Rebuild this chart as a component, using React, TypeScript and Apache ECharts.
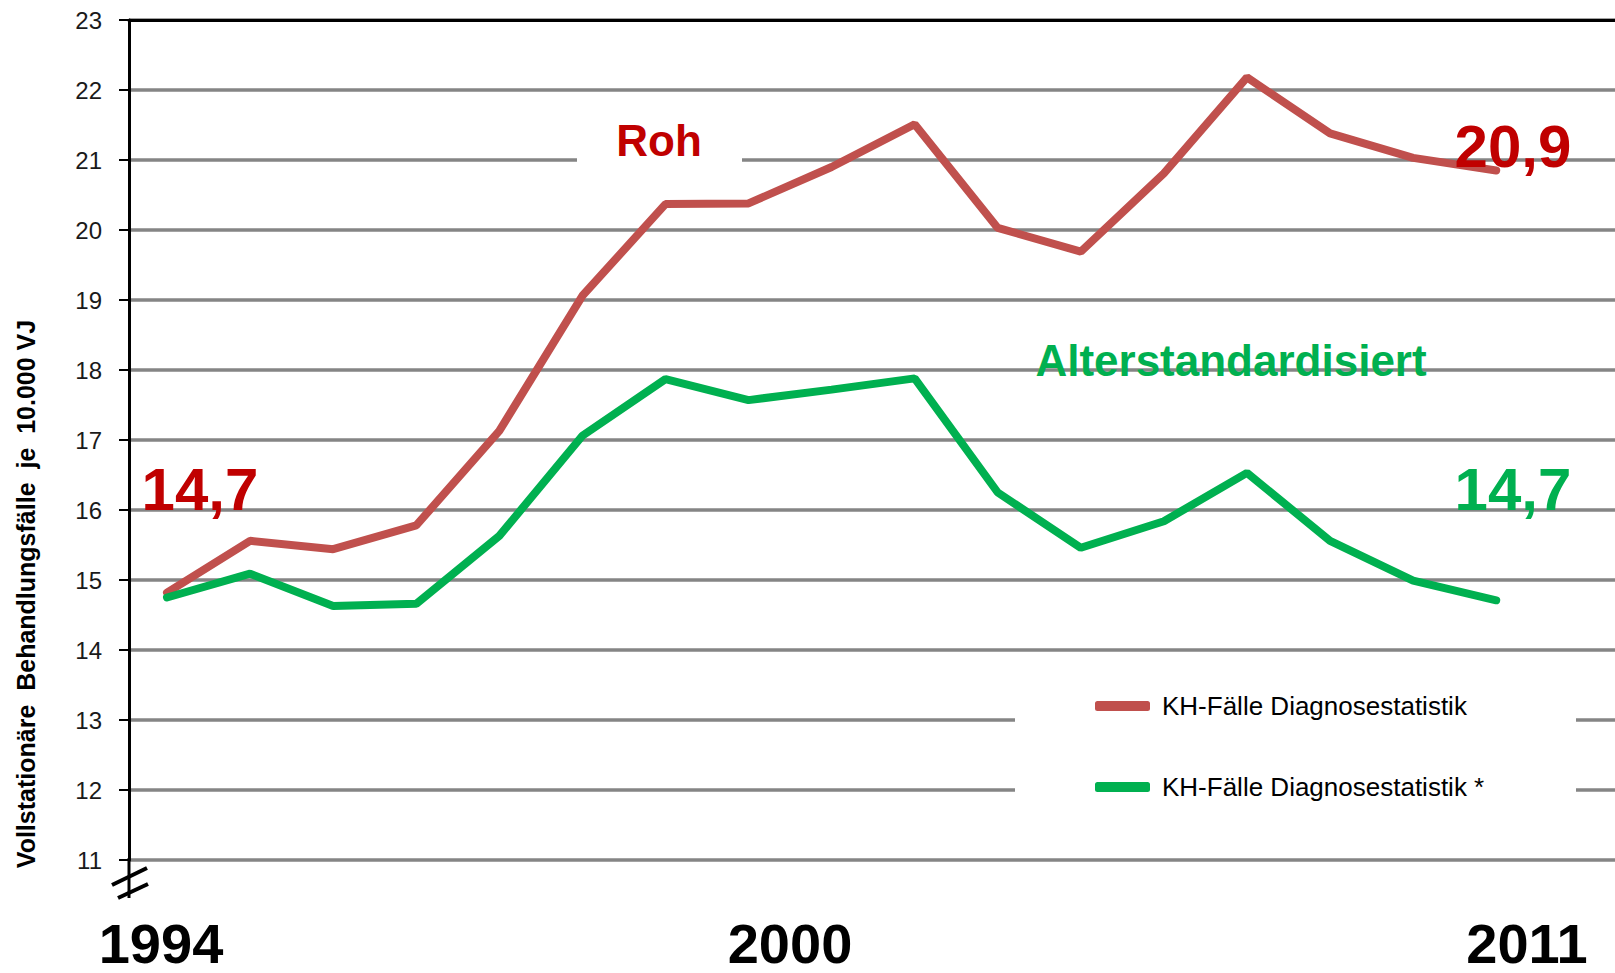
import React, { useEffect, useRef } from "react";
import * as echarts from "echarts";

const years = ["1994","1995","1996","1997","1998","1999","2000","2001","2002","2003","2004","2005","2006","2007","2008","2009","2010"];
const rohValues = [14.82, 15.56, 15.44, 15.78, 17.13, 19.06, 20.37, 20.38, 20.9, 21.51, 20.03, 19.69, 20.81, 22.18, 21.38, 21.03, 20.85];
const altersValues = [14.75, 15.09, 14.63, 14.66, 15.63, 17.06, 17.87, 17.57, 17.72, 17.88, 16.25, 15.46, 15.84, 16.53, 15.56, 14.99, 14.71];
const seriesNames = ["KH-Fälle Diagnosestatistik", "KH-Fälle Diagnosestatistik *"];
const yearLabels = ["1994", "2000", "2011"];
const yTitle = "Vollstationäre  Behandlungsfälle  je  10.000 VJ";

const FONT = "'Liberation Sans', Arial, sans-serif";

export default function App() {
  const ref = useRef<HTMLDivElement>(null);
  useEffect(() => {
    if (!ref.current) return;
    const chart = echarts.init(ref.current, undefined, { renderer: "svg" });
    const toPairs = (arr: number[]) => arr.map((v, i) => [i, v]);
    const xMin = -0.4575;
    const xMax = 17.43;
    const big = (text: string, x: number, y: number, size: number, fill: string) => ({
      type: "text", z: 10, x, y,
      style: { text, fontSize: size, fontWeight: "bold", fontFamily: FONT, fill, textAlign: "center", textVerticalAlign: "middle" },
    });
    chart.setOption({
      animation: false,
      backgroundColor: "#ffffff",
      grid: { left: 129, top: 20, right: 0, bottom: 113, containLabel: false },
      xAxis: [
        {
          type: "value", min: xMin, max: xMax,
          axisLine: { show: false, onZero: false }, axisTick: { show: false }, axisLabel: { show: false }, splitLine: { show: false },
        },
        {
          type: "value", min: xMin, max: xMax, position: "top",
          axisLine: { show: true, onZero: false, lineStyle: { color: "#000", width: 3 } },
          axisTick: { show: false }, axisLabel: { show: false }, splitLine: { show: false },
        },
      ],
      yAxis: {
        type: "value", min: 11, max: 23, interval: 1,
        axisLine: { show: true, onZero: false, lineStyle: { color: "#000", width: 3 } },
        axisTick: { show: true, length: 10, lineStyle: { color: "#000", width: 2 } },
        axisLabel: { margin: 27, fontSize: 24, color: "#1a1a1a", fontFamily: FONT },
        splitLine: { show: true, lineStyle: { color: "#858585", width: 3.5 } },
      },
      legend: {
        orient: "vertical",
        left: 1090,
        top: 688,
        itemWidth: 55,
        itemHeight: 10,
        itemGap: 55,
        icon: "roundRect",
        selectedMode: false,
        textStyle: { fontSize: 26, fontFamily: FONT, color: "#000", padding: [0, 0, 0, 7] },
        data: seriesNames,
      },
      series: [
        {
          name: seriesNames[0], type: "line", data: toPairs(rohValues), showSymbol: false, symbol: "none",
          lineStyle: { color: "#C0504D", width: 8, cap: "round" }, itemStyle: { color: "#C0504D" }, z: 3,
        },
        {
          name: seriesNames[1], type: "line", data: toPairs(altersValues), showSymbol: false, symbol: "none",
          lineStyle: { color: "#00B050", width: 8, cap: "round" }, itemStyle: { color: "#00B050" }, z: 3,
        },
      ],
      graphic: [
        { type: "rect", z: 1, shape: { x: 577, y: 105, width: 165, height: 70 }, style: { fill: "#ffffff" } },
        { type: "rect", z: 1, shape: { x: 1015, y: 660, width: 561, height: 150 }, style: { fill: "#ffffff" } },
        { type: "line", z: 5, shape: { x1: 129, y1: 858, x2: 129, y2: 898 }, style: { stroke: "#000", lineWidth: 3 } },
        { type: "line", z: 5, shape: { x1: 112, y1: 885, x2: 147, y2: 868 }, style: { stroke: "#000", lineWidth: 4 } },
        { type: "line", z: 5, shape: { x1: 118, y1: 898, x2: 148, y2: 884 }, style: { stroke: "#000", lineWidth: 4 } },
        { type: "text", z: 10, x: 26, y: 594, rotation: Math.PI / 2,
          style: { text: yTitle, fontSize: 25, fontWeight: "bold", fontFamily: FONT, fill: "#000", textAlign: "center", textVerticalAlign: "middle" } },
        big("Roh", 659, 140, 44, "#C00000"),
        big("Alterstandardisiert", 1231, 360, 44, "#00B050"),
        big("14,7", 200, 489, 60, "#C00000"),
        big("20,9", 1513, 146, 60, "#C00000"),
        big("14,7", 1513, 489, 60, "#00B050"),
        big(yearLabels[0], 161, 943, 56, "#000"),
        big(yearLabels[1], 790, 943, 56, "#000"),
        big(yearLabels[2], 1527, 943, 56, "#000"),
      ],
    });
    return () => chart.dispose();
  }, []);
  return (
    <div
      ref={ref}
      style={{ position: "fixed", left: 0, top: 0, width: 1615, height: 973, background: "#fff" }}
      data-years={years.join(",")}
    />
  );
}
